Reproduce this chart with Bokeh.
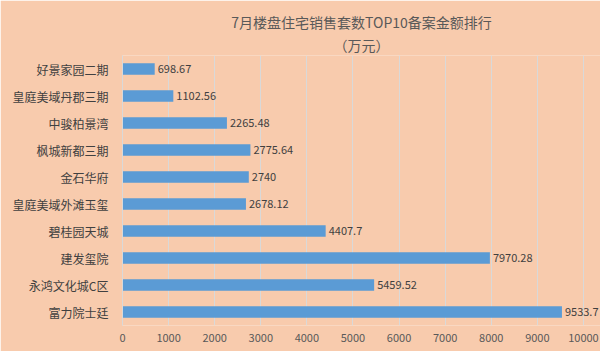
from bokeh.plotting import figure
from bokeh.models import ColumnDataSource, FactorRange, Title, FixedTicker, NumeralTickFormatter
from bokeh.core.properties import value
from bokeh.embed import file_html
from bokeh.resources import INLINE

projects = ["好景家园二期", "皇庭美域丹郡三期", "中骏柏景湾", "枫城新都三期", "金石华府",
            "皇庭美域外滩玉玺", "碧桂园天城", "建发玺院", "永鸿文化城C区", "富力院士廷"]
amounts = [698.67, 1102.56, 2265.48, 2775.64, 2740, 2678.12, 4407.7, 7970.28, 5459.52, 9533.7]
labels = ["698.67", "1102.56", "2265.48", "2775.64", "2740", "2678.12", "4407.7", "7970.28", "5459.52", "9533.7"]
x_ticks = [0, 1000, 2000, 3000, 4000, 5000, 6000, 7000, 8000, 9000, 10000]
title_main = "7月楼盘住宅销售套数TOP10备案金额排行"
title_sub = "（万元）"

BG = "#F8CBAD"
FONT = "Noto Sans CJK SC"

src = ColumnDataSource(dict(y=projects, x=amounts, lab=labels))

p = figure(width=600, height=351, output_backend="svg", toolbar_location=None,
           y_range=FactorRange(*projects[::-1], range_padding=0),
           x_range=(0, 10370),
           min_border_left=122, min_border_right=0, min_border_top=55, min_border_bottom=26)
p.background_fill_color = BG
p.border_fill_color = BG
p.outline_line_color = None

p.hbar(y="y", right="x", left=0, height=0.42, source=src, color="#5B9BD5", line_color=None)
p.text(x="x", y="y", text="lab", source=src, x_offset=3, text_baseline="middle",
       text_align="left", text_font_size="11px", text_color="#404040", text_font=value(FONT))

p.add_layout(Title(text=title_sub, align="center", text_font_size="14px", text_font_style="normal",
                   text_color="#595959", text_font=FONT, standoff=2, text_line_height=1.0), "above")
p.add_layout(Title(text=title_main, align="center", text_font_size="14px", text_font_style="normal",
                   text_color="#595959", text_font=FONT, standoff=0, text_line_height=1.0), "above")

p.xaxis.ticker = FixedTicker(ticks=x_ticks)
p.xaxis.formatter = NumeralTickFormatter(format="0")
p.xaxis.axis_line_color = None
p.xaxis.major_tick_line_color = None
p.xaxis.minor_tick_line_color = None
p.xaxis.major_label_text_font_size = "11px"
p.xaxis.major_label_text_color = "#595959"
p.xaxis.major_label_text_font = FONT
p.xaxis.major_label_standoff = 2

p.yaxis.axis_line_color = "#D9D9D9"
p.yaxis.major_tick_line_color = None
p.yaxis.minor_tick_line_color = None
p.yaxis.major_label_text_font_size = "12px"
p.yaxis.major_label_text_color = "#404040"
p.yaxis.major_label_text_font = FONT
p.yaxis.major_label_standoff = 8

p.xgrid.grid_line_color = "#D9D9D9"
p.ygrid.grid_line_color = None

open("out.html", "w").write(file_html(p, INLINE))
